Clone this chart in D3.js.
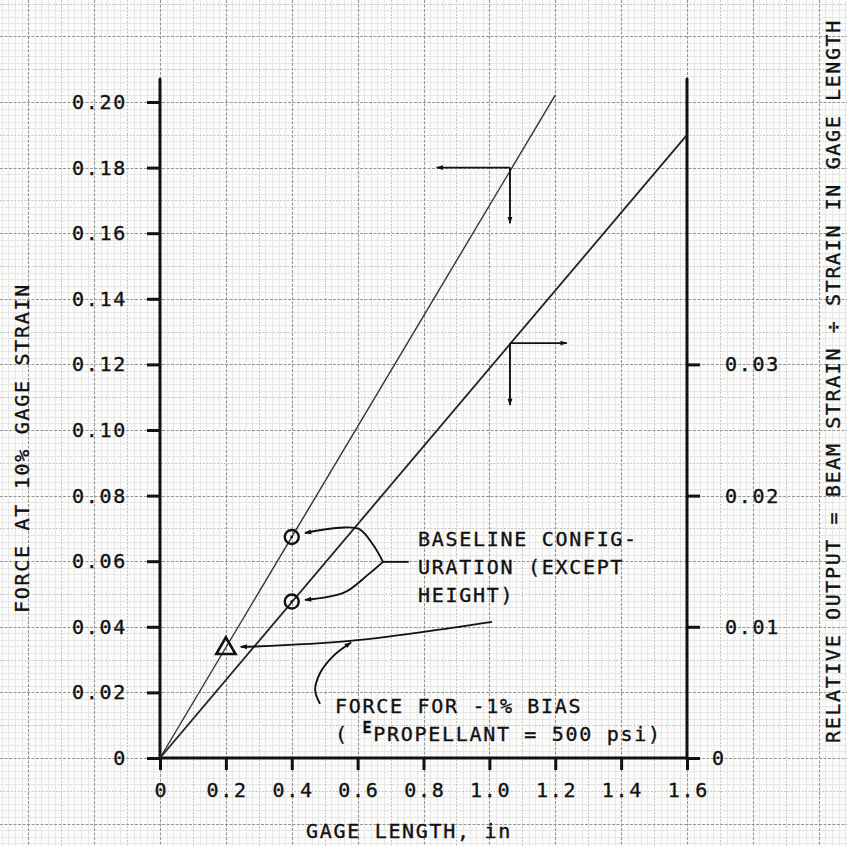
<!DOCTYPE html>
<html>
<head>
<meta charset="utf-8">
<script src="https://cdn.jsdelivr.net/npm/d3@7"></script>
<style>
  html, body { margin: 0; padding: 0; background: #fbfbfa; }
  svg { display: block; }
  text { font-family: "DejaVu Sans Mono", monospace; fill: #111; stroke: #111; stroke-width: 0.35px; }
</style>
</head>
<body>
<svg id="chart" width="847" height="846"></svg>
<script>
// ---- data ----
const xTicks = [0, 0.2, 0.4, 0.6, 0.8, 1.0, 1.2, 1.4, 1.6];
const xTickLabels = ["0", "0.2", "0.4", "0.6", "0.8", "1.0", "1.2", "1.4", "1.6"];
const yTicks = [0, 0.02, 0.04, 0.06, 0.08, 0.10, 0.12, 0.14, 0.16, 0.18, 0.20];
const yTickLabels = ["0", "0.02", "0.04", "0.06", "0.08", "0.10", "0.12", "0.14", "0.16", "0.18", "0.20"];
const yRightTicks = [0, 0.01, 0.02, 0.03];
const yRightTickLabels = ["0", "0.01", "0.02", "0.03"];

// force line (left axis) and relative output line (right axis, shown on left-axis scale)
const forceLineX = [0, 1.2];
const forceLineY = [0, 0.2021];
const outputLineX = [0, 1.6];
const outputLineY = [0, 0.19];

// baseline configuration points
const baselineX = [0.4, 0.4];
const baselineY = [0.0674, 0.0477];
// force for -1% bias
const biasX = [0.2];
const biasY = [0.0337];

// ---- layout ----
const svg = d3.select("#chart");
const x = d3.scaleLinear().domain([0, 1.6]).range([160, 687]);
const y = d3.scaleLinear().domain([0, 0.20]).range([758, 102]);
const yR = d3.scaleLinear().domain([0, 0.05]).range([758, 102]);

// ---- graph paper ----
const grid = svg.append("g");
const xStep = 0.02, yStep = 0.002;
const kx0 = Math.floor(x.invert(0) / xStep), kx1 = Math.ceil(x.invert(847) / xStep);
const ky0 = Math.floor(y.invert(846) / yStep), ky1 = Math.ceil(y.invert(0) / yStep);
function gridStyle(k) {
  const m = ((k % 10) + 10) % 10;
  if (m === 0) return { c: "#959595", w: 1.1, d: "3,1.5" };
  if (m === 5) return { c: "#c4c4c4", w: 1, d: "2,1.5" };
  return { c: "#e2e2e2", w: 0.8, d: null };
}
const order = k => { const m = ((k % 10) + 10) % 10; return m === 0 ? 2 : m === 5 ? 1 : 0; };
const kxs = d3.range(kx0, kx1 + 1);
const kys = d3.range(ky0, ky1 + 1);
[0, 1, 2].forEach(level => {
  kxs.filter(k => order(k) === level).forEach(k => {
    const s = gridStyle(k), px = Math.round(x(k * xStep)) + 0.5;
    grid.append("line").attr("x1", px).attr("x2", px).attr("y1", 0).attr("y2", 846)
      .attr("stroke", s.c).attr("stroke-width", s.w).attr("stroke-dasharray", s.d);
  });
  kys.filter(k => order(k) === level).forEach(k => {
    const s = gridStyle(k), py = Math.round(y(k * yStep)) + 0.5;
    grid.append("line").attr("x1", 0).attr("x2", 847).attr("y1", py).attr("y2", py)
      .attr("stroke", s.c).attr("stroke-width", s.w).attr("stroke-dasharray", s.d);
  });
});

// ---- axes ----
const axisColor = "#111";
const fontSize = 20, ls = 1.7;

const gL = svg.append("g").attr("transform", `translate(${x(0)},0)`)
  .call(d3.axisLeft(y).tickValues(yTicks).tickFormat((d, i) => yTickLabels[i]).tickSize(13).tickPadding(20));
const gR = svg.append("g").attr("transform", `translate(${x(1.6)},0)`)
  .call(d3.axisRight(yR).tickValues(yRightTicks).tickFormat((d, i) => yRightTickLabels[i]).tickSize(13).tickPadding(25));
const gB = svg.append("g").attr("transform", `translate(0,${y(0)})`)
  .call(d3.axisBottom(x).tickValues(xTicks).tickFormat((d, i) => xTickLabels[i]).tickSize(12).tickPadding(13));

[gL, gR, gB].forEach(g => {
  g.select(".domain").remove();
  g.selectAll(".tick line").attr("stroke", axisColor).attr("stroke-width", 3);
  g.selectAll(".tick text").attr("font-family", '"DejaVu Sans Mono", monospace')
    .attr("font-size", fontSize).attr("letter-spacing", ls).attr("fill", "#111");
});
gB.selectAll(".tick text").attr("dx", ls / 2);
gR.selectAll(".tick").filter(d => d === 0).select("text").attr("x", 25);

// axis lines
const axisTop = 0.207;
svg.append("line").attr("x1", x(0)).attr("x2", x(0)).attr("y1", y(axisTop)).attr("y2", y(0))
  .attr("stroke", axisColor).attr("stroke-width", 3).attr("stroke-linecap", "round");
svg.append("line").attr("x1", x(1.6)).attr("x2", x(1.6)).attr("y1", y(axisTop)).attr("y2", y(0))
  .attr("stroke", axisColor).attr("stroke-width", 3).attr("stroke-linecap", "round");
svg.append("line").attr("x1", x(0)).attr("x2", x(1.6)).attr("y1", y(0)).attr("y2", y(0))
  .attr("stroke", axisColor).attr("stroke-width", 3);

// ---- data lines ----
const line = d3.line().x(d => x(d[0])).y(d => y(d[1]));
svg.append("path").datum(forceLineX.map((v, i) => [v, forceLineY[i]]))
  .attr("d", line).attr("fill", "none").attr("stroke", "#333").attr("stroke-width", 1.4);
svg.append("path").datum(outputLineX.map((v, i) => [v, outputLineY[i]]))
  .attr("d", line).attr("fill", "none").attr("stroke", "#222").attr("stroke-width", 1.8);

// markers
baselineX.forEach((v, i) => {
  svg.append("circle").attr("cx", x(v)).attr("cy", y(baselineY[i])).attr("r", 7)
    .attr("fill", "none").attr("stroke", "#111").attr("stroke-width", 2.4);
  svg.append("circle").attr("cx", x(v)).attr("cy", y(baselineY[i])).attr("r", 1.4).attr("fill", "#111");
});
biasX.forEach((v, i) => {
  svg.append("path").attr("d", d3.symbol(d3.symbolTriangle, 160)())
    .attr("transform", `translate(${x(v)},${y(biasY[i]) + 1})`)
    .attr("fill", "none").attr("stroke", "#111").attr("stroke-width", 2.6).attr("stroke-linejoin", "miter");
});

// ---- annotation arrows ----
const defs = svg.append("defs");
defs.append("marker").attr("id", "ah").attr("viewBox", "0 0 10 10").attr("refX", 9).attr("refY", 5)
  .attr("markerWidth", 10).attr("markerHeight", 7).attr("markerUnits", "userSpaceOnUse")
  .attr("orient", "auto")
  .append("path").attr("d", "M0,1.5 L10,5 L0,8.5 Z").attr("fill", "#111");

function arrow(pts, curve, width) {
  const l = d3.line().x(d => x(d[0])).y(d => y(d[1])).curve(curve || d3.curveLinear);
  svg.append("path").attr("d", l(pts)).attr("fill", "none").attr("stroke", "#111")
    .attr("stroke-width", width || 1.9).attr("marker-end", "url(#ah)");
}
// axis indicator arrows
arrow([[1.0625, 0.18], [0.84, 0.18]]);
arrow([[1.0625, 0.18], [1.0625, 0.163]]);
arrow([[1.0625, 0.1265], [1.235, 0.1265]]);
arrow([[1.0625, 0.1265], [1.0625, 0.1076]]);

// baseline leaders
svg.append("path").attr("d", d3.line().x(d => x(d[0])).y(d => y(d[1]))([[0.677, 0.0598], [0.755, 0.0598]]))
  .attr("stroke", "#111").attr("stroke-width", 1.9).attr("fill", "none");
arrow([[0.677, 0.0598], [0.647, 0.0650], [0.605, 0.0698], [0.545, 0.0702], [0.44, 0.0686]], d3.curveCatmullRom);
arrow([[0.677, 0.0598], [0.628, 0.0556], [0.56, 0.0505], [0.44, 0.0482]], d3.curveCatmullRom);

// force leader
arrow([[1.008, 0.0415], [0.88, 0.0396], [0.577, 0.0357], [0.29, 0.0340], [0.245, 0.0339]], d3.curveCatmullRom);
arrow([[0.486, 0.0165], [0.471, 0.0207], [0.486, 0.0259], [0.525, 0.0310], [0.58, 0.0352]], d3.curveCatmullRom);

// ---- texts ----
function label(tx, ty, str) {
  return svg.append("text").attr("x", tx).attr("y", ty).attr("font-size", fontSize)
    .attr("letter-spacing", ls).text(str);
}
label(418, 546, "BASELINE CONFIG-");
label(418, 574, "URATION (EXCEPT");
label(418, 602, "HEIGHT)");
label(335, 713, "FORCE FOR -1% BIAS");
const t2 = svg.append("text").attr("x", 335).attr("y", 741).attr("font-size", fontSize).attr("letter-spacing", ls);
t2.append("tspan").text("( ");
t2.append("tspan").attr("font-size", 15).attr("font-weight", "bold").attr("dy", -8).text("E");
t2.append("tspan").attr("dy", 8).text("PROPELLANT = 500 psi)");

// axis titles
svg.append("text").attr("x", 409).attr("y", 838).attr("text-anchor", "middle")
  .attr("font-size", fontSize).attr("letter-spacing", ls).text("GAGE LENGTH, in");
svg.append("text").attr("transform", "translate(29,448) rotate(-90)").attr("text-anchor", "middle")
  .attr("font-size", fontSize).attr("letter-spacing", ls).text("FORCE AT 10% GAGE STRAIN");
svg.append("text").attr("transform", "translate(840,381) rotate(-90)").attr("text-anchor", "middle")
  .attr("font-size", fontSize).attr("letter-spacing", ls * 0.95).text("RELATIVE OUTPUT = BEAM STRAIN ÷ STRAIN IN GAGE LENGTH");
</script>
</body>
</html>
